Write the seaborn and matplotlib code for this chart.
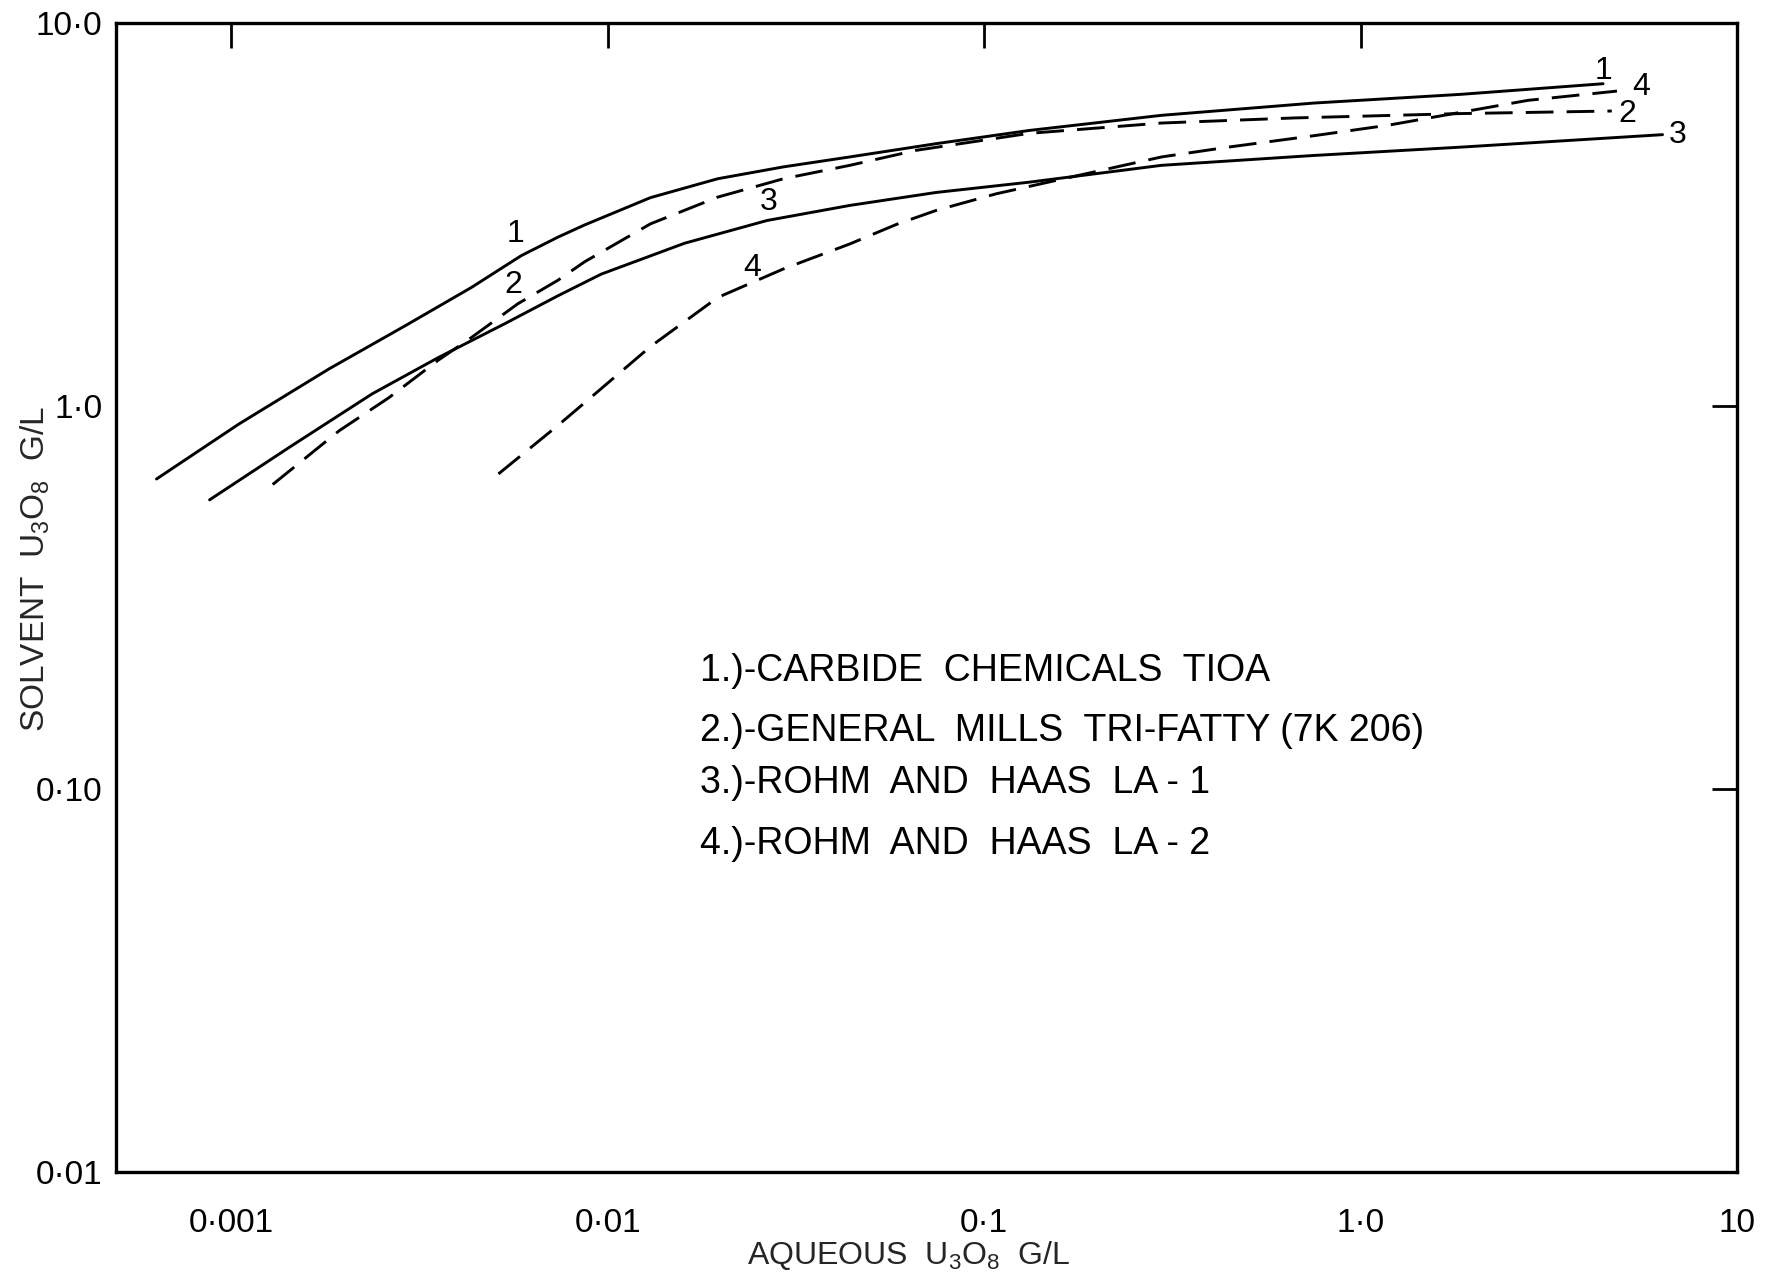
import matplotlib
matplotlib.use('Agg')
import matplotlib.pyplot as plt
from matplotlib.ticker import NullLocator
import pandas as pd
import seaborn as sns

# extraction isotherms, aqueous vs solvent U3O8 (g/L)
tioa_x = [0.000634, 0.00105, 0.00182, 0.0029, 0.00435, 0.0059, 0.00738, 0.00869, 0.013,
          0.0196, 0.0293, 0.044, 0.0745, 0.1316, 0.296, 0.753, 1.84, 4.40]
tioa_y = [0.645, 0.898, 1.25, 1.62, 2.04, 2.47, 2.76, 2.97, 3.50,
          3.92, 4.21, 4.47, 4.84, 5.24, 5.74, 6.18, 6.51, 6.94]

trifatty_x = [0.00129, 0.00194, 0.00262, 0.00356, 0.00435, 0.00578, 0.00738, 0.00869, 0.013,
              0.0196, 0.0293, 0.044, 0.0659, 0.1316, 0.296, 0.667, 1.84, 4.64]
trifatty_y = [0.624, 0.863, 1.05, 1.32, 1.51, 1.85, 2.13, 2.38, 2.99,
              3.51, 3.92, 4.25, 4.65, 5.15, 5.48, 5.65, 5.80, 5.89]

la1_x = [0.000877, 0.00143, 0.00237, 0.00356, 0.00533, 0.00738, 0.00962, 0.016, 0.0265,
         0.044, 0.0745, 0.1316, 0.296, 0.753, 1.84, 6.33]
la1_y = [0.569, 0.781, 1.076, 1.34, 1.64, 1.94, 2.21, 2.66, 3.05,
         3.34, 3.61, 3.84, 4.25, 4.51, 4.74, 5.11]

la2_x = [0.00513, 0.00738, 0.00869, 0.013, 0.0196, 0.0293, 0.044, 0.0585, 0.0745,
         0.1075, 0.178, 0.296, 0.444, 0.753, 1.185, 2.78, 4.79]
la2_y = [0.665, 0.89, 1.02, 1.43, 1.92, 2.28, 2.65, 2.98, 3.24,
         3.58, 4.00, 4.47, 4.74, 5.08, 5.41, 6.28, 6.64]

legend_lines = ["1.)-CARBIDE  CHEMICALS  TIOA",
                "2.)-GENERAL  MILLS  TRI-FATTY (7K 206)",
                "3.)-ROHM  AND  HAAS  LA - 1",
                "4.)-ROHM  AND  HAAS  LA - 2"]

xticks = [0.001, 0.01, 0.1, 1, 10]
xtick_labels = ["0·001", "0·01", "0·1", "1·0", "10"]
yticks = [0.01, 0.1, 1, 10]
ytick_labels = ["0·01", "0·10", "1·0", "10·0"]

# build one long table for seaborn
frames = []
for name, xs, ys in [("1", tioa_x, tioa_y), ("2", trifatty_x, trifatty_y),
                     ("3", la1_x, la1_y), ("4", la2_x, la2_y)]:
    frames.append(pd.DataFrame({"aq": xs, "solv": ys, "curve": name}))
df = pd.concat(frames, ignore_index=True)

sns.set_theme(style="white")
plt.rcParams['font.family'] = ['Liberation Sans', 'DejaVu Sans']
plt.rcParams['mathtext.fontset'] = 'custom'
plt.rcParams['mathtext.rm'] = 'Liberation Sans'
plt.rcParams['mathtext.default'] = 'rm'

fig = plt.figure(figsize=(17.71, 12.75), dpi=100)
ax = fig.add_axes([0.0657, 0.0806, 0.9153, 0.9014])

sns.lineplot(data=df, x="aq", y="solv", hue="curve", style="curve",
             palette={"1": "black", "2": "black", "3": "black", "4": "black"},
             dashes={"1": "", "2": (9.5, 4.5), "3": "", "4": (9.5, 4.5)},
             estimator=None, linewidth=2.1, legend=False, ax=ax)

ax.set_xscale('log')
ax.set_yscale('log')
ax.set_xlim(0.000496, 10)
ax.set_ylim(0.01, 10)

ax.set_xticks(xticks)
ax.set_xticklabels(xtick_labels)
ax.set_yticks(yticks)
ax.set_yticklabels(ytick_labels)
ax.xaxis.set_minor_locator(NullLocator())
ax.yaxis.set_minor_locator(NullLocator())
ax.tick_params(which='major', direction='in', length=18, width=2,
               top=True, right=True, labelsize=24, colors='black')
ax.tick_params(axis='x', pad=26)
ax.tick_params(axis='y', pad=10)

for sp in ax.spines.values():
    sp.set_color('black')
    sp.set_linewidth(2.4)

ax.set_xlabel(r"AQUEOUS  U$_3$O$_8$  G/L", fontsize=23)
ax.set_ylabel(r"SOLVENT  U$_3$O$_8$  G/L", fontsize=24)
ax.xaxis.set_label_coords(0.489, -0.058)
ax.yaxis.set_label_coords(-0.040, 0.525)

# curve numbers
lbl = dict(fontsize=23, color='black', ha='center', va='center')
ax.text(0.00571, 2.82, "1", **lbl)
ax.text(0.00561, 2.07, "2", **lbl)
ax.text(0.0268, 3.41, "3", **lbl)
ax.text(0.0242, 2.29, "4", **lbl)
ax.text(4.40, 7.50, "1", **lbl)
ax.text(5.55, 6.80, "4", **lbl)
ax.text(5.10, 5.80, "2", **lbl)
ax.text(6.95, 5.09, "3", **lbl)

for txt, yv in zip(legend_lines, [0.204, 0.142, 0.104, 0.072]):
    ax.text(0.01758, yv, txt, fontsize=27, ha='left', va='center', color='black')

fig.savefig("out.png", dpi=100, facecolor='white')
